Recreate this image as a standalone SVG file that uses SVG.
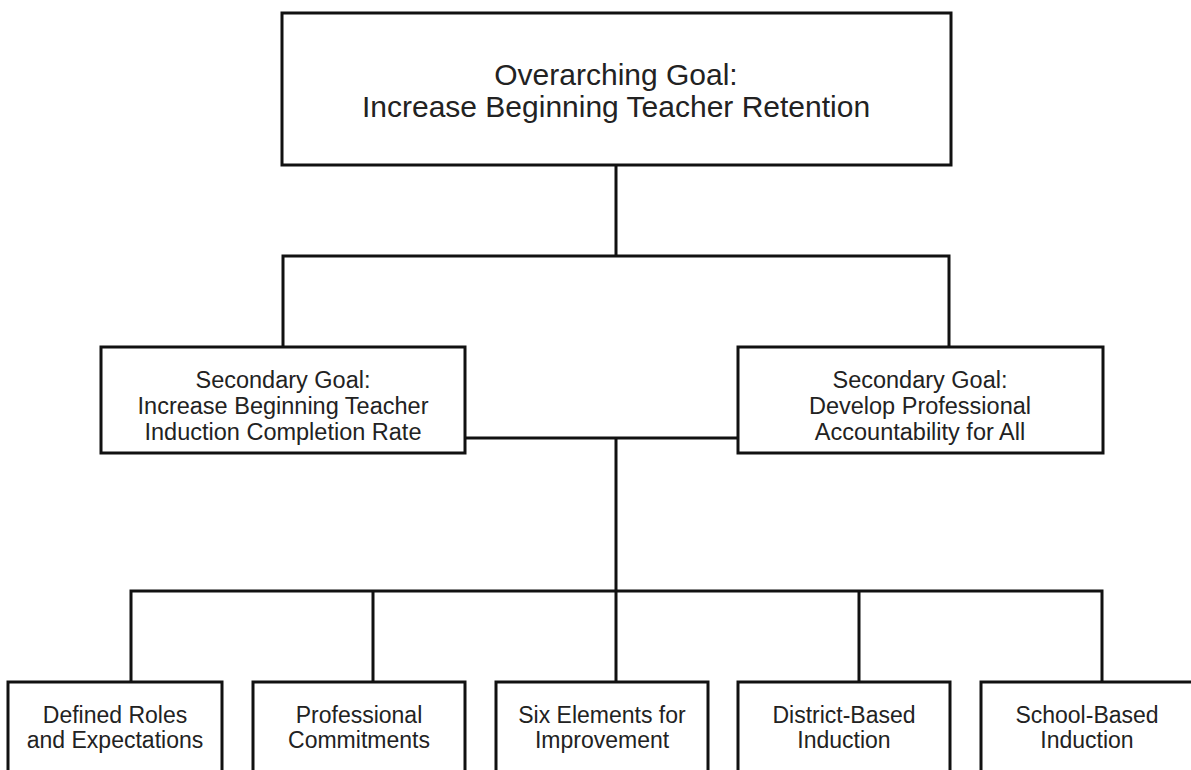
<svg xmlns="http://www.w3.org/2000/svg" width="1191" height="770" viewBox="0 0 1191 770">
<style>
.box{fill:#fff;stroke:#111;stroke-width:3}
.ln{stroke:#111;stroke-width:3;fill:none;stroke-linecap:square}
text{font-family:"Liberation Sans",Arial,sans-serif;fill:#222;text-anchor:middle}
.t1{font-size:30px}
.t2{font-size:23.5px}
.t3{font-size:23px}
</style>
<rect width="1191" height="770" fill="#fff"/>
<g id="connectors">
<path class="ln" d="M616 164V256M283 256H949M283 256V347M949 256V347"/>
<path class="ln" d="M465 438H738M616 438V591M131 591H1102M131 591V682M373 591V682M616 591V682M859 591V682M1102 591V682"/>
</g>
<g id="top"><rect class="box" x="282" y="13" width="669" height="152"/>
<text class="t1" x="616" y="85">Overarching Goal:</text>
<text class="t1" x="616" y="117">Increase Beginning Teacher Retention</text></g>
<g id="sec1"><rect class="box" x="101" y="347" width="364" height="106"/>
<text class="t2" x="283" y="388">Secondary Goal:</text>
<text class="t2" x="283" y="414">Increase Beginning Teacher</text>
<text class="t2" x="283" y="440">Induction Completion Rate</text></g>
<g id="sec2"><rect class="box" x="738" y="347" width="365" height="106"/>
<text class="t2" x="920" y="388">Secondary Goal:</text>
<text class="t2" x="920" y="414">Develop Professional</text>
<text class="t2" x="920" y="440">Accountability for All</text></g>
<g id="b1"><rect class="box" x="8" y="682" width="214" height="110"/>
<text class="t3" x="115" y="723">Defined Roles</text>
<text class="t3" x="115" y="748">and Expectations</text></g>
<g id="b2"><rect class="box" x="253" y="682" width="212" height="110"/>
<text class="t3" x="359" y="723">Professional</text>
<text class="t3" x="359" y="748">Commitments</text></g>
<g id="b3"><rect class="box" x="496" y="682" width="212" height="110"/>
<text class="t3" x="602" y="723">Six Elements for</text>
<text class="t3" x="602" y="748">Improvement</text></g>
<g id="b4"><rect class="box" x="738" y="682" width="212" height="110"/>
<text class="t3" x="844" y="723">District-Based</text>
<text class="t3" x="844" y="748">Induction</text></g>
<g id="b5"><rect class="box" x="981" y="682" width="212" height="110"/>
<text class="t3" x="1087" y="723">School-Based</text>
<text class="t3" x="1087" y="748">Induction</text></g>
</svg>
